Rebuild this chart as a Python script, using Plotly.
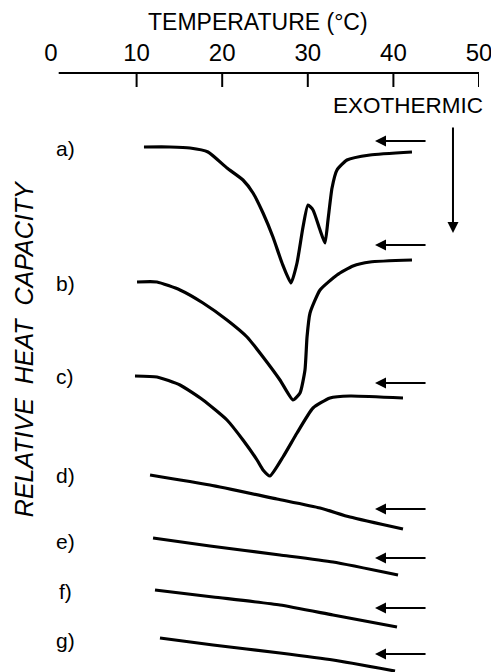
import plotly.graph_objects as go

# Temperature axis ticks
TICKS = [0, 10, 20, 30, 40, 50]

# Curves: temperature (°C) and relative heat capacity (arbitrary units, offset per trace)
a_T = [10.86, 13.9, 16.24, 18.34, 20.56, 22.43, 23.6, 24.77, 25.93, 26.99, 28.04, 28.74, 29.44,
       30.02, 30.61, 31.43, 32.01, 32.36, 32.83, 33.41, 34.58, 37.27, 42.17]
a_cp = [525, 525, 524, 520, 504, 492, 479, 459, 435, 409, 389, 409, 445,
        467, 462, 442, 429, 452, 484, 502, 512, 517, 520]

b_T = [10.05, 12.38, 15.07, 17.76, 20.56, 22.9, 24.77, 26.75, 28.27, 29.09, 29.67, 29.91, 30.26,
       31.43, 33.41, 35.28, 37.27, 42.17]
b_cp = [390, 390, 382, 369, 352, 335, 315, 292, 272, 279, 302, 335, 359,
        382, 397, 406, 410, 412]

c_T = [9.81, 12.38, 15.07, 17.76, 20.56, 22.43, 24.07, 24.77, 25.58, 27.1, 28.74, 30.61, 32.59, 34.93, 41.12]
c_cp = [296, 295, 287, 272, 252, 232, 212, 202, 196, 215, 239, 264, 274, 276, 274]

d_T = [11.57, 18.57, 26.4, 31.43, 34.93, 41.12]
d_cp = [197, 187, 173, 164, 155, 143]

e_T = [11.92, 18.57, 26.75, 32.94, 40.54]
e_cp = [134, 126, 117, 110, 97]

f_T = [12.15, 18.93, 26.75, 32.94, 40.42]
f_cp = [82, 75, 67, 57, 45]

g_T = [12.73, 18.93, 26.75, 32.94, 40.19]
g_cp = [34, 27, 19, 12, 1]

curve_labels = ["a)", "b)", "c)", "d)", "e)", "f)", "g)"]
label_cp = [524, 389, 296, 197, 131, 81, 32]
label_T = 1.64

# Direction-of-scan arrows (tail temperature, head temperature, level)
arrow_tail_T = 43.93
arrow_head_T = 37.85
arrow_cp = [531, 427, 289, 163, 114, 64, 18]

# Exothermic arrow
exo_T = 46.96
exo_cp_top = 546
exo_cp_bottom = 439

FONT = "Liberation Sans"

fig = go.Figure()
for T, cp in [(a_T, a_cp), (b_T, b_cp), (c_T, c_cp), (d_T, d_cp), (e_T, e_cp), (f_T, f_cp), (g_T, g_cp)]:
    fig.add_trace(go.Scatter(x=T, y=cp, mode="lines",
                             line=dict(color="black", width=3.2, shape="spline", smoothing=0.5),
                             showlegend=False, hoverinfo="skip"))

annotations = []
for lab, cp in zip(curve_labels, label_cp):
    annotations.append(dict(x=label_T, y=cp, xref="x", yref="y", text=lab, showarrow=False,
                            xanchor="center", yanchor="middle",
                            font=dict(family=FONT, size=21, color="black")))
for cp in arrow_cp:
    annotations.append(dict(x=arrow_head_T, y=cp, ax=arrow_tail_T, ay=cp, xref="x", yref="y",
                            axref="x", ayref="y", text="", showarrow=True, arrowhead=2,
                            arrowsize=1.1, arrowwidth=2, arrowcolor="black"))
annotations.append(dict(x=exo_T, y=exo_cp_bottom, ax=exo_T, ay=exo_cp_top, xref="x", yref="y",
                        axref="x", ayref="y", text="", showarrow=True, arrowhead=2,
                        arrowsize=1.1, arrowwidth=2, arrowcolor="black"))
annotations.append(dict(x=0.834, y=0.945, xref="paper", yref="paper", text="EXOTHERMIC",
                        xanchor="center", yanchor="middle", showarrow=False,
                        font=dict(family=FONT, size=22.5, color="black")))
annotations.append(dict(x=0.484, y=1.085, xref="paper", yref="paper", text="TEMPERATURE (°C)",
                        xanchor="center", yanchor="middle", showarrow=False,
                        font=dict(family=FONT, size=23, color="black")))
annotations.append(dict(x=-0.063, y=0.539, xref="paper", yref="paper",
                        text="<i>RELATIVE\u00a0\u00a0HEAT\u00a0\u00a0CAPACITY</i>", textangle=-90,
                        xanchor="center", yanchor="middle", showarrow=False,
                        font=dict(family=FONT, size=25, color="black")))

shapes = [dict(type="line", xref="x", yref="paper", x0=0.9, x1=TICKS[-1], y0=1, y1=1,
               line=dict(color="black", width=2))]
for t in TICKS[1:]:
    shapes.append(dict(type="line", xref="x", yref="paper", x0=t, x1=t, y0=1, y1=1 - 14 / 599,
                       line=dict(color="black", width=2)))

fig.update_layout(
    width=499, height=672, autosize=False,
    margin=dict(l=43, r=28, t=65, b=8, autoexpand=False),
    paper_bgcolor="white", plot_bgcolor="white",
    xaxis=dict(range=[0, 50], side="top", tickvals=TICKS, ticktext=[str(t) for t in TICKS],
               ticks="", showline=False, showgrid=False, zeroline=False, automargin=False,
               tickfont=dict(family=FONT, size=24, color="black"), ticklabelstandoff=6),
    yaxis=dict(range=[0, 599], visible=False, showgrid=False, zeroline=False, automargin=False),
    annotations=annotations, shapes=shapes,
)

fig.write_html("out.html")
